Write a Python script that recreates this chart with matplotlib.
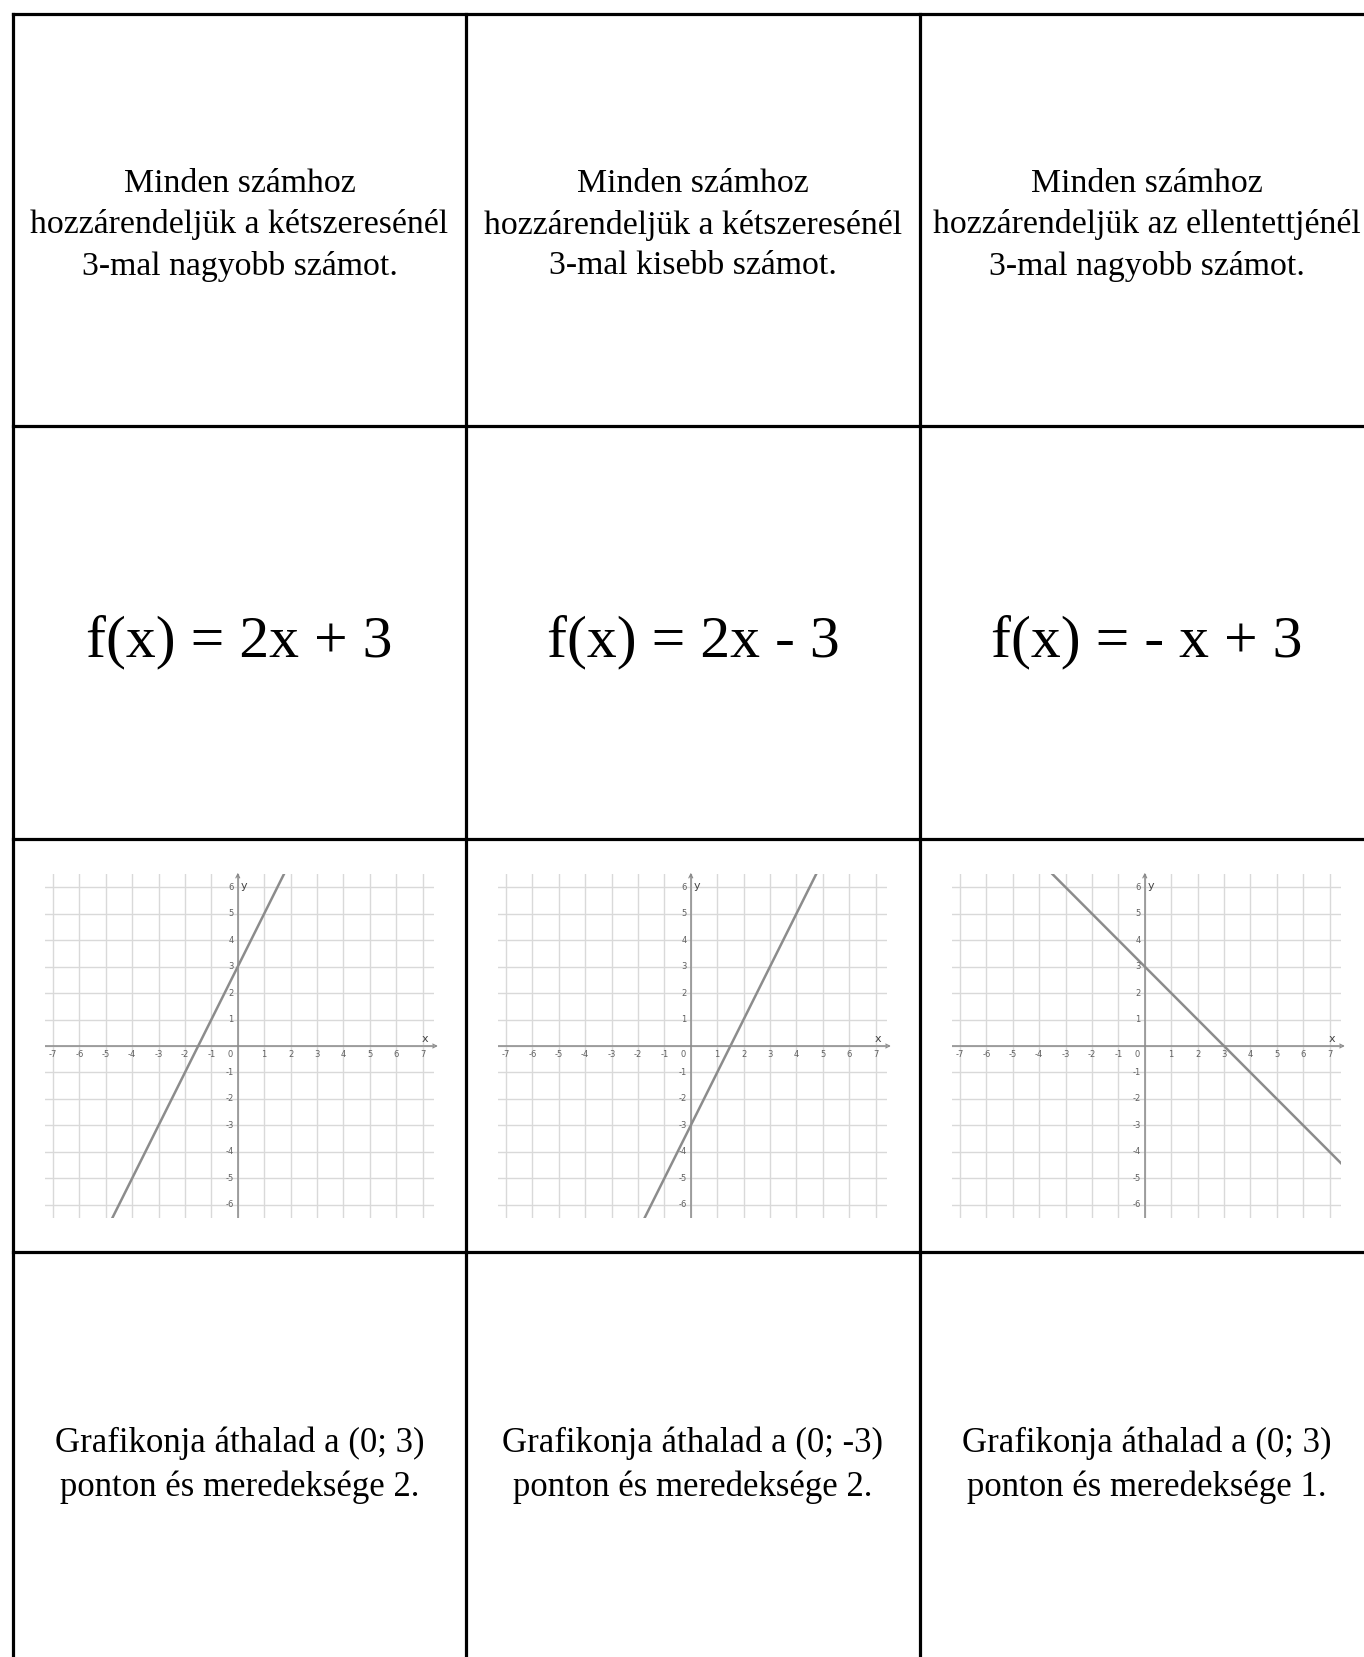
import matplotlib.pyplot as plt
import numpy as np

# card texts, one per column
descriptions = [
    "Minden számhoz\nhozzárendeljük a kétszeresénél\n3-mal nagyobb számot.",
    "Minden számhoz\nhozzárendeljük a kétszeresénél\n3-mal kisebb számot.",
    "Minden számhoz\nhozzárendeljük az ellentettjénél\n3-mal nagyobb számot.",
]
formulas = ["f(x) = 2x + 3", "f(x) = 2x - 3", "f(x) = - x + 3"]
slopes = [2, 2, -1]
intercepts = [3, -3, 3]
notes = [
    "Grafikonja áthalad a (0; 3)\nponton és meredeksége 2.",
    "Grafikonja áthalad a (0; -3)\nponton és meredeksége 2.",
    "Grafikonja áthalad a (0; 3)\nponton és meredeksége 1.",
]
x_ticks = list(range(-7, 8))
y_ticks = list(range(-6, 7))

W, H = 1364, 1657
col_edges = [13, 466, 920, 1374]
row_edges = [14, 426, 839, 1252, 1665]

fig = plt.figure(figsize=(W / 100, H / 100), dpi=100)
bg = fig.add_axes([0, 0, 1, 1])
bg.set_xlim(0, W)
bg.set_ylim(H, 0)
bg.axis('off')

# table lines
for x in col_edges:
    bg.plot([x, x], [row_edges[0], row_edges[-1]], color='black', lw=2.3,
            solid_capstyle='projecting')
for y in row_edges:
    bg.plot([col_edges[0], col_edges[-1]], [y, y], color='black', lw=2.3,
            solid_capstyle='projecting')

serif = 'Liberation Serif'
for i in range(3):
    cx = (col_edges[i] + col_edges[i + 1]) / 2
    bg.text(cx, (row_edges[0] + row_edges[1]) / 2 + 5, descriptions[i],
            ha='center', va='center', fontsize=24.3, family=serif,
            linespacing=1.44)
    bg.text(cx, (row_edges[1] + row_edges[2]) / 2 + 10, formulas[i],
            ha='center', va='center', fontsize=43, family=serif)
    bg.text(cx, 1465, notes[i], ha='center', va='center', fontsize=25,
            family=serif, linespacing=1.4)

# small coordinate-system pictures
xmin, xmax = -7.3, 7.43
ymin, ymax = -6.5, 6.5
grid_c = '#d9d9d9'
axis_c = '#8a8a8a'
lab_c = '#606060'
for i in range(3):
    left = col_edges[i] + 32
    top, bottom = 874, 1218
    ax = fig.add_axes([left / W, 1 - bottom / H, 389 / W, (bottom - top) / H])
    ax.set_xlim(xmin, xmax)
    ax.set_ylim(ymin, ymax)
    ax.set_xticks(x_ticks)
    ax.set_yticks(y_ticks)
    ax.tick_params(length=0, labelbottom=False, labelleft=False)
    ax.grid(color=grid_c, lw=1.0)
    for s in ax.spines.values():
        s.set_visible(False)
    ax.set_facecolor('white')

    ax.axhline(0, color=axis_c, lw=1.1)
    ax.axvline(0, color=axis_c, lw=1.1)
    ax.annotate('', xy=(xmax + 0.25, 0), xytext=(xmax - 0.1, 0),
                arrowprops=dict(arrowstyle='->', color=axis_c, lw=0.8,
                                mutation_scale=7),
                annotation_clip=False)
    ax.annotate('', xy=(0, ymax + 0.15), xytext=(0, ymax - 0.2),
                arrowprops=dict(arrowstyle='->', color=axis_c, lw=0.8,
                                mutation_scale=7),
                annotation_clip=False)

    for t in x_ticks:
        if t == 0:
            continue
        ax.text(t, -0.32, str(t), ha='center', va='center', fontsize=6,
                color=lab_c)
    ax.text(-0.3, -0.32, '0', ha='center', va='center', fontsize=6,
            color=lab_c)
    for t in y_ticks:
        if t == 0:
            continue
        ax.text(-0.15, t, str(t), ha='right', va='center', fontsize=6,
                color=lab_c)
    ax.text(7.1, 0.25, 'x', ha='center', va='center', fontsize=8,
            color='#444444')
    ax.text(0.24, 6.05, 'y', ha='center', va='center', fontsize=8,
            color='#444444')

    xs = np.array([xmin, xmax])
    ax.plot(xs, slopes[i] * xs + intercepts[i], color='#8c8c8c', lw=1.8)

fig.savefig('out.png', dpi=100)
